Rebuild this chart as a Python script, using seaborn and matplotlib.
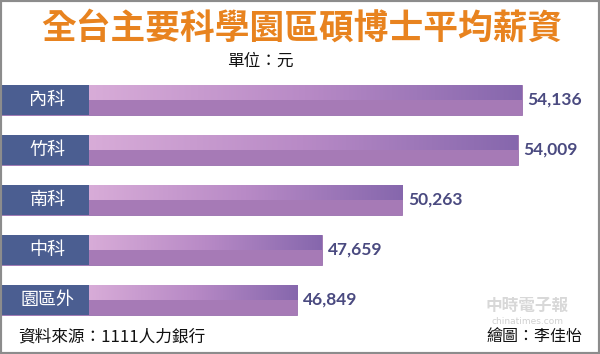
import numpy as np
import pandas as pd
import matplotlib
matplotlib.use('Agg')
import matplotlib.pyplot as plt
import matplotlib.transforms as mtransforms
from matplotlib.patches import Rectangle
from matplotlib.colors import LinearSegmentedColormap
import seaborn as sns

# Data
parks = ['內科', '竹科', '南科', '中科', '園區外']
salary = [54136, 54009, 50263, 47659, 46849]
value_labels = ['54,136', '54,009', '50,263', '47,659', '46,849']

df = pd.DataFrame({'park': parks, 'salary': salary})

sns.set_style('white')
plt.rcParams['font.family'] = ['Noto Sans CJK TC', 'DejaVu Sans']

fig = plt.figure(figsize=(6, 3.54), dpi=100)
ax = fig.add_axes([2 / 600, 1 - 325 / 354, 596 / 600, 250 / 354])

# Base bars (lower half colour)
sns.barplot(data=df, x='salary', y='park', color='#a67ab6', width=0.6,
            saturation=1, ax=ax, orient='h')

axis_start = 40094          # value where the visible bar begins
units_per_px = 32.47
xlim = (axis_start - 87.3 * units_per_px, axis_start + 508.7 * units_per_px)
ax.set_xlim(*xlim)
ax.set_ylim(len(parks) - 0.5, -0.5)

# Gradient on upper half of every bar
grad_cmap = LinearSegmentedColormap.from_list('g', ['#d8acd8', '#b88ac6', '#8667ad'])
grad = np.linspace(0, 1, 256).reshape(1, -1)
for p in ax.patches:
    p.set_edgecolor('#9a70ae')
    p.set_linewidth(0.6)
    y0 = p.get_y()
    h = p.get_height()
    ax.imshow(grad, cmap=grad_cmap, aspect='auto',
              extent=(axis_start, p.get_width(), y0 + h / 2, y0), zorder=3)

ax.set_xlim(*xlim)
ax.set_ylim(len(parks) - 0.5, -0.5)

# Label boxes on the left
trans = mtransforms.blended_transform_factory(ax.transAxes, ax.transData)
box_w = 87.3 / 596
for i, p in enumerate(ax.patches[:len(parks)]):
    ax.add_patch(Rectangle((0, p.get_y()), box_w, p.get_height(), transform=trans,
                           facecolor='#4b5e91', edgecolor='none', zorder=4))
    ax.text(box_w / 2 + 0.003, i, parks[i], transform=trans, ha='center', va='center',
            color='white', fontsize=13, zorder=5)
    ax.text(salary[i] + 5.5 * units_per_px, i, value_labels[i], ha='left', va='center',
            color='#4a4a80', fontsize=12.5, fontweight='bold',
            family=['Lato', 'DejaVu Sans'], zorder=5)

ax.set_xlabel('')
ax.set_ylabel('')
ax.set_xticks([])
ax.set_yticks([])
sns.despine(ax=ax, left=True, bottom=True)

# Titles and footers
fig.text(0.503, 1 - 28 / 354, '全台主要科學園區碩博士平均薪資', ha='center', va='center',
         color='#e8831f', fontsize=25, fontweight='bold')
fig.text(260 / 600, 1 - 61 / 354, '單位：元', ha='center', va='center',
         color='#111111', fontsize=12)
fig.text(18 / 600, 1 - 337 / 354, '資料來源：1111人力銀行', ha='left', va='center',
         color='#111111', fontsize=12)
fig.text(582 / 600, 1 - 337 / 354, '繪圖：李佳怡', ha='right', va='center',
         color='#111111', fontsize=11.5)
fig.text(527 / 600, 1 - 306 / 354, '中時電子報', ha='center', va='center',
         color='#d8d8d8', fontsize=12, fontweight='bold')
fig.text(527 / 600, 1 - 322 / 354, 'chinatimes.com', ha='center', va='center',
         color='#d0d0d0', fontsize=6.5, family=['DejaVu Sans'])

# Grey frame
fig.patches.append(Rectangle((0, 0), 1, 1, transform=fig.transFigure, fill=False,
                             edgecolor='#8c8c8c', linewidth=3, zorder=10))

fig.savefig('out.png', dpi=100, facecolor='white')
